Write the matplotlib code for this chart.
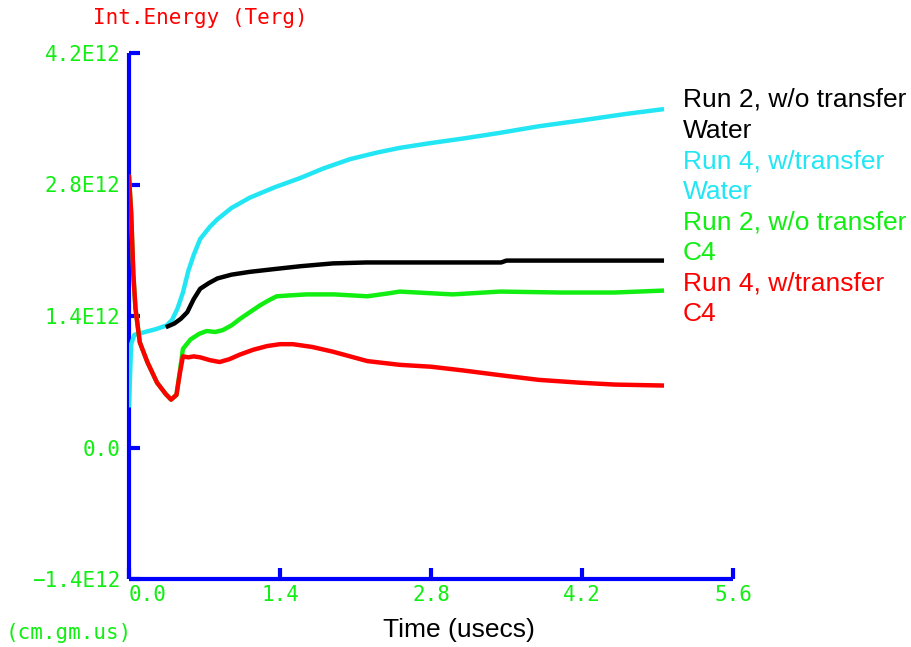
import matplotlib
matplotlib.use("Agg")
import matplotlib.pyplot as plt

# time (usecs) and internal energy (units of 1E12 erg)
cyan_t = [0.0, 0.02, 0.05, 0.15, 0.25, 0.35, 0.40, 0.45, 0.50, 0.55, 0.60, 0.66, 0.75,
          0.82, 0.95, 1.12, 1.35, 1.59, 1.80, 2.05, 2.30, 2.51, 2.79, 3.10, 3.44, 3.80,
          4.18, 4.60, 4.94]
cyan_e = [0.45, 1.10, 1.20, 1.23, 1.26, 1.30, 1.36, 1.48, 1.65, 1.88, 2.05, 2.22, 2.35,
          2.43, 2.55, 2.66, 2.77, 2.87, 2.97, 3.07, 3.14, 3.19, 3.24, 3.29, 3.35, 3.42,
          3.48, 3.55, 3.60]

black_t = [0.36, 0.42, 0.48, 0.54, 0.60, 0.66, 0.74, 0.82, 0.95, 1.12, 1.35, 1.59, 1.89,
           2.20, 2.51, 3.00, 3.45, 3.50, 4.00, 4.50, 4.94]
black_e = [1.29, 1.32, 1.37, 1.44, 1.58, 1.69, 1.75, 1.80, 1.84, 1.87, 1.90, 1.93, 1.96,
           1.97, 1.97, 1.97, 1.97, 1.99, 1.99, 1.99, 1.99]

green_t = [0.0, 0.02, 0.04, 0.06, 0.10, 0.17, 0.26, 0.34, 0.39, 0.44, 0.47, 0.50, 0.57,
           0.65, 0.72, 0.80, 0.87, 0.95, 1.03, 1.12, 1.21, 1.30, 1.37, 1.50, 1.65, 1.90,
           2.21, 2.40, 2.51, 3.00, 3.44, 4.00, 4.50, 4.94]
green_e = [2.88, 2.50, 1.85, 1.48, 1.12, 0.91, 0.69, 0.57, 0.51, 0.56, 0.80, 1.05, 1.15,
           1.21, 1.24, 1.23, 1.25, 1.30, 1.37, 1.44, 1.51, 1.57, 1.61, 1.62, 1.63, 1.63,
           1.61, 1.64, 1.66, 1.63, 1.66, 1.65, 1.65, 1.67]

red_t = [0.0, 0.02, 0.04, 0.06, 0.10, 0.17, 0.26, 0.34, 0.39, 0.44, 0.47, 0.50, 0.55,
         0.60, 0.66, 0.75, 0.84, 0.93, 1.03, 1.15, 1.28, 1.40, 1.52, 1.70, 1.89, 2.05,
         2.21, 2.51, 2.80, 3.10, 3.44, 3.80, 4.18, 4.50, 4.94]
red_e = [2.88, 2.50, 1.85, 1.48, 1.12, 0.91, 0.69, 0.57, 0.51, 0.56, 0.78, 0.97, 0.96,
         0.97, 0.96, 0.93, 0.91, 0.94, 0.99, 1.04, 1.08, 1.10, 1.10, 1.07, 1.02, 0.97,
         0.92, 0.88, 0.86, 0.82, 0.77, 0.72, 0.69, 0.67, 0.66]

ticks = [-1.4, 0.0, 1.4, 2.8, 4.2]
tick_labels = ["\u22121.4E12", "0.0", "1.4E12", "2.8E12", "4.2E12"]
xticks = [0.0, 1.4, 2.8, 4.2, 5.6]

legend_lines = [("Run 2, w/o transfer", "black"), ("Water", "black"),
                ("Run 4, w/transfer", "#22e6f4"), ("Water", "#22e6f4"),
                ("Run 2, w/o transfer", "#11ee11"), ("C4", "#11ee11"),
                ("Run 4, w/transfer", "red"), ("C4", "red")]

W, H = 912, 647
fig = plt.figure(figsize=(W / 100, H / 100), dpi=100)
ax = fig.add_axes([129 / W, 1 - 579 / H, (733 - 129) / W, (579 - 53) / H])

ax.plot(cyan_t, cyan_e, color="#22e6f4", lw=3.2, zorder=3)
ax.plot(black_t, black_e, color="black", lw=3.2, zorder=3)
ax.plot(green_t, green_e, color="#11ee11", lw=3.2, zorder=3)
ax.plot(red_t, red_e, color="red", lw=3.2, zorder=3)

ax.set_xlim(0, 5.6)
ax.set_ylim(-1.4, 4.2)
for s in ["top", "right"]:
    ax.spines[s].set_visible(False)
for s in ["left", "bottom"]:
    ax.spines[s].set_color("blue")
    ax.spines[s].set_linewidth(3)
    ax.spines[s].set_capstyle("butt")

mono = "DejaVu Sans Mono"
green = "#11ee11"
ax.set_yticks(ticks)
ax.set_yticklabels(tick_labels, family=mono, fontsize=15, color=green)
ax.set_xticks(xticks)
ax.set_xticklabels(["0.0", "1.4", "2.8", "4.2", "5.6"], family=mono, fontsize=15, color=green)
ax.tick_params(direction="in", color="blue", width=3, length=8)
ax.tick_params(axis="y", pad=6)
ax.tick_params(axis="x", pad=4)
ax.get_xticklabels()[0].set_horizontalalignment("left")

fig.text(93 / W, 1 - 18 / H, "Int.Energy (Terg)", family=mono, fontsize=15,
         color="red", va="center", ha="left")
fig.text(6 / W, 1 - 633 / H, "(cm.gm.us)", family=mono, fontsize=15,
         color=green, va="center", ha="left")
fig.text(459 / W, 1 - 630 / H, "Time (usecs)", family="Liberation Sans", fontsize=19,
         color="black", va="center", ha="center")

y0 = 100
for i, (txt, col) in enumerate(legend_lines):
    fig.text(683 / W, 1 - (y0 + i * 30.6) / H, txt, family="Liberation Sans",
             fontsize=19, color=col, va="center", ha="left")

fig.savefig("out.png", dpi=100)
